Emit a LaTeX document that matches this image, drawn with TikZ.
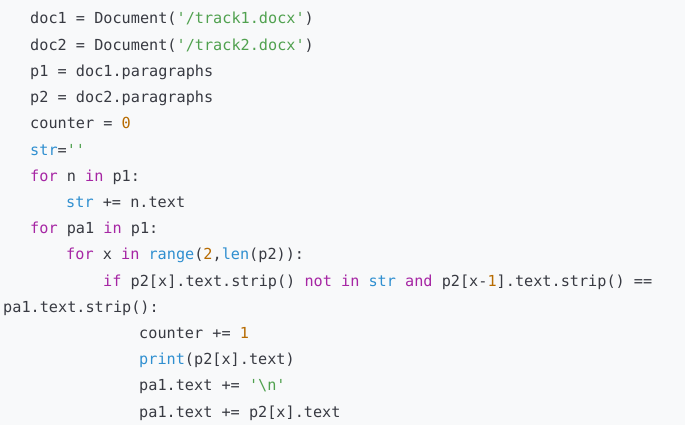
\documentclass[tikz,border=0pt]{standalone}
\usepackage{fontspec}
\setmonofont{DejaVu Sans Mono}
\definecolor{bgc}{HTML}{F8F9FA}
\definecolor{txc}{HTML}{383A42}
\definecolor{kwc}{HTML}{A626A4}
\definecolor{bic}{HTML}{2F8FD0}
\definecolor{stc}{HTML}{50A14F}
\definecolor{nmc}{HTML}{B76B01}
\newcommand\kwd[1]{\textcolor{kwc}{#1}}
\newcommand\bif[1]{\textcolor{bic}{#1}}
\newcommand\strg[1]{\textcolor{stc}{#1}}
\newcommand\numb[1]{\textcolor{nmc}{#1}}
\begin{document}
\begin{tikzpicture}[x=1pt,y=-1pt,
  ln/.style={anchor=base west,inner sep=0pt,text=txc,font=\ttfamily\fontsize{15.2}{17}\selectfont}]
\fill[bgc] (0,0) rectangle (685,425);
\useasboundingbox (0,0) rectangle (685,425);
\node[ln] (l1) at (30,24) {doc1 = Document(\strg{'/track1.docx'})};
\node[ln] (l2) at (30,50.2) {doc2 = Document(\strg{'/track2.docx'})};
\node[ln] (l3) at (30,76.4) {p1 = doc1.paragraphs};
\node[ln] (l4) at (30,102.6) {p2 = doc2.paragraphs};
\node[ln] (l5) at (30,128.8) {counter = \numb{0}};
\node[ln] (l6) at (30,155) {\bif{str}=\strg{''}};
\node[ln] (l7) at (30,181.2) {\kwd{for} n \kwd{in} p1:};
\node[ln] (l8) at (66,207.4) {\bif{str} += n.text};
\node[ln] (l9) at (30,233.6) {\kwd{for} pa1 \kwd{in} p1:};
\node[ln] (l10) at (66,259.8) {\kwd{for} x \kwd{in} \bif{range}(\numb{2},\bif{len}(p2)):};
\node[ln] (l11) at (103,286) {\kwd{if} p2[x].text.strip() \kwd{not} \kwd{in} \bif{str} \kwd{and} p2[x-\numb{1}].text.strip() ==};
\node[ln] (l12) at (3,312.2) {pa1.text.strip():};
\node[ln] (l13) at (139,338.4) {counter += \numb{1}};
\node[ln] (l14) at (139,364.6) {\bif{print}(p2[x].text)};
\node[ln] (l15) at (139,390.8) {pa1.text += \strg{'\textbackslash n'}};
\node[ln] (l16) at (139,417) {pa1.text += p2[x].text};
\end{tikzpicture}
\end{document}
